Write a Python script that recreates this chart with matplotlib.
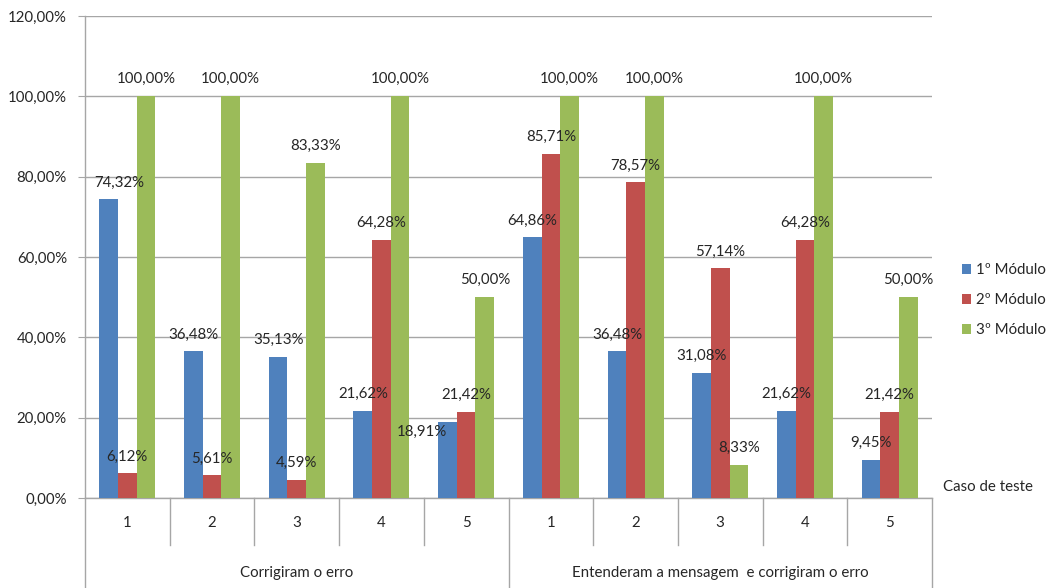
import numpy as np
import matplotlib.pyplot as plt
from matplotlib.transforms import blended_transform_factory

plt.rcParams['font.family'] = ['Lato', 'DejaVu Sans']

# test cases, two groups of five
groups = ["Corrigiram o erro", "Entenderam a mensagem  e corrigiram o erro"]
cases = ["1", "2", "3", "4", "5", "1", "2", "3", "4", "5"]
series_names = ["1º Módulo", "2º Módulo", "3º Módulo"]

mod1 = [74.32, 36.48, 35.13, 21.62, 18.91, 64.86, 36.48, 31.08, 21.62, 9.45]
mod2 = [6.12, 5.61, 4.59, 64.28, 21.42, 85.71, 78.57, 57.14, 64.28, 21.42]
mod3 = [100.00, 100.00, 83.33, 100.00, 50.00, 100.00, 100.00, 8.33, 100.00, 50.00]

colors = ["#4F81BD", "#C0504D", "#9BBB59"]
text_color = "#262626"
grid_color = "#A6A6A6"
fs = 10.8

# label nudges in pixels (series, category) -> (dx, dy); default is straight above
nudges = {(0, 0): (11, 17), (0, 4): (-26, -10)}


def pct(v):
    return f"{v:.2f}%".replace(".", ",")


fig = plt.figure(figsize=(10.49, 5.88), dpi=100)
ax = fig.add_axes([85 / 1049, 90 / 588, 847 / 1049, 482 / 588])

x = np.arange(len(cases))
width = 0.22
all_series = [mod1, mod2, mod3]
for i, vals in enumerate(all_series):
    pos = x + (i - 1) * width
    ax.bar(pos, vals, width, color=colors[i], label=series_names[i], zorder=3)
    for j, v in enumerate(vals):
        dx, dy = nudges.get((i, j), (0, 17))
        ax.annotate(pct(v), (pos[j], v), xytext=(dx, dy), textcoords="offset pixels",
                    ha="center", va="center", fontsize=fs, color=text_color, zorder=4)

ax.set_xlim(-0.5, len(cases) - 0.5)
ax.set_ylim(0, 120)
ax.set_yticks(np.arange(0, 121, 20))
ax.set_yticklabels([pct(t) for t in np.arange(0, 121, 20)], fontsize=fs, color=text_color)
ax.yaxis.grid(True, color=grid_color, lw=1, zorder=0)
ax.tick_params(axis="y", length=5, color=grid_color, pad=8)
ax.set_xticks([])
for s in ["top", "right"]:
    ax.spines[s].set_visible(False)
for s in ["left", "bottom"]:
    ax.spines[s].set_color(grid_color)
    ax.spines[s].set_linewidth(1)

# two-level category axis
trans = blended_transform_factory(ax.transData, ax.transAxes)
for k in range(len(cases) + 1):
    b = k - 0.5
    long_line = k % 5 == 0
    y_end = -0.19 if long_line else -0.098
    ax.plot([b, b], [0, y_end], color=grid_color, lw=1, transform=trans, clip_on=False)
for j, c in enumerate(cases):
    ax.text(j, -0.052, c, transform=trans, ha="center", va="center", fontsize=fs, color=text_color)
for g, name in enumerate(groups):
    ax.text(g * 5 + 2, -0.156, name, transform=trans, ha="center", va="center",
            fontsize=fs, color=text_color)

fig.text(943 / 1049, 1 - 487 / 588, "Caso de teste", ha="left", va="center",
         fontsize=fs, color=text_color)

fig.legend(loc="upper left", bbox_to_anchor=(948 / 1049, 1 - 250 / 588), frameon=False,
           handlelength=0.65, handleheight=0.65, handletextpad=0.35, labelspacing=1.05,
           fontsize=fs, labelcolor=text_color)

fig.savefig("out.png", dpi=100)
